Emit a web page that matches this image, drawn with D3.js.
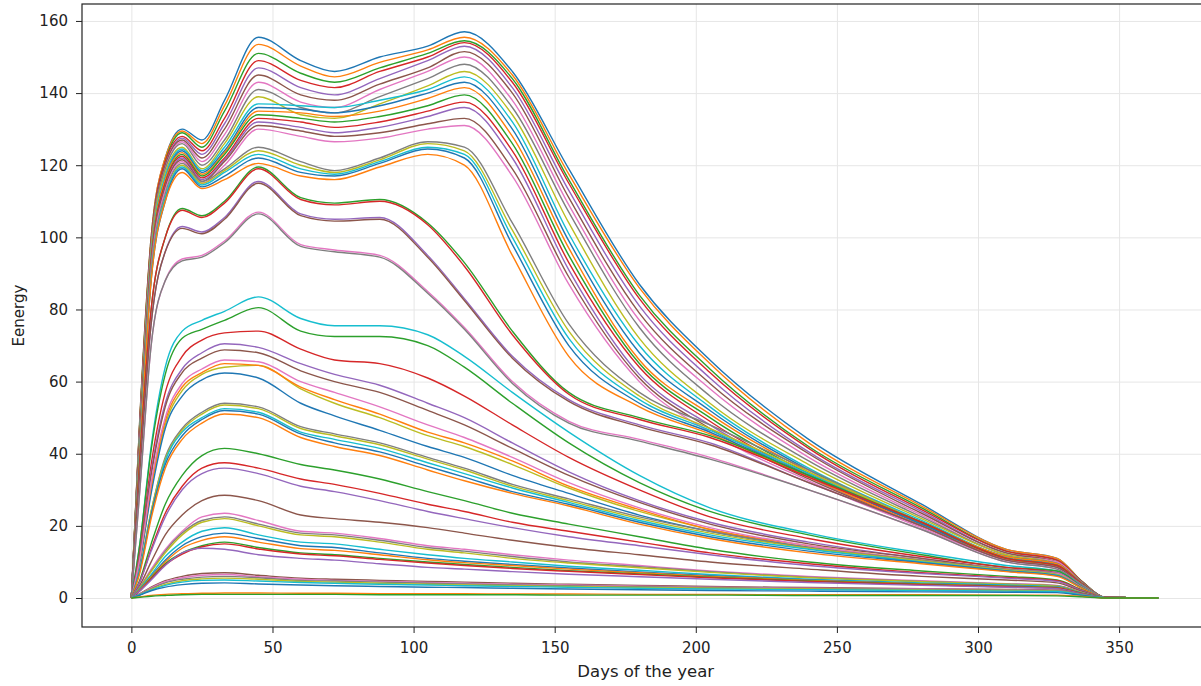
<!DOCTYPE html>
<html>
<head>
<meta charset="utf-8">
<script src="https://cdn.jsdelivr.net/npm/d3@7"></script>
<style>
  body { margin: 0; background: #fff; }
  text { font-family: "DejaVu Sans", sans-serif; }
</style>
</head>
<body>
<svg width="1201" height="686"></svg>
<script>
// sample days (x) shared by every series
const days = [0, 3, 7, 12, 18, 25, 33, 45, 60, 72, 88, 105, 118, 135, 155, 180, 205, 240, 280, 310, 328, 337, 345, 364];

// top bundle, two humps (day 45 and day 118)
const topSeries = [
  [0, 50, 100, 122, 130, 127, 138, 155.5, 149, 146, 150, 153, 157, 146, 119, 87, 66, 44, 26, 13.5, 11, 4.5, 0.2, 0],
  [0, 50, 100, 122, 129.5, 126, 136.5, 153.5, 147.5, 144.5, 148.5, 152, 155.5, 145, 117.5, 86, 65, 43, 25.5, 13.5, 11, 4.5, 0.2, 0],
  [0, 49, 99, 121, 129, 125, 135, 151, 145.5, 143, 147, 151, 154.5, 144, 116, 84, 63.5, 42, 25, 13, 10.5, 4.5, 0.2, 0],
  [0, 49, 99, 121, 128, 124, 133, 149, 143.5, 141.5, 146, 150, 154, 143, 115, 83, 62.5, 41.5, 24.5, 13, 10.5, 4.4, 0.2, 0],
  [0, 48, 98, 120, 127.5, 123, 131.5, 147, 141.5, 139.5, 144, 149, 153, 141.5, 113, 81, 61, 40.5, 24, 12.5, 10, 4.3, 0.2, 0],
  [0, 48, 98, 120, 127, 122, 130, 145, 139.5, 138, 142.5, 147, 151.5, 140, 111, 79, 59.5, 40, 23.5, 12.5, 10, 4.2, 0.2, 0],
  [0, 47, 97, 119, 126.5, 121, 128.5, 143, 137.5, 136, 141, 146, 150, 138, 109, 77, 58, 39, 23, 12, 10, 4.1, 0.2, 0],
  [0, 47, 97, 119, 126, 120, 127, 141, 136, 134.5, 139, 144, 148, 136, 107, 75, 56, 38, 22.5, 12, 9.5, 4, 0.2, 0],
  [0, 46, 96, 118, 125, 119, 126, 139, 134, 133, 137, 142, 146, 134, 104, 72, 54, 37, 22, 12, 9.5, 4, 0.2, 0]
];

const secondSeries = [
  [0, 46, 95, 117, 124.5, 118.5, 125, 137, 136.5, 136, 138, 141, 144.5, 132, 101, 70, 53, 36, 21.5, 11.5, 9.5, 4, 0.2, 0],
  [0, 45, 94, 116, 124, 118, 124, 136, 135.5, 134.5, 136.5, 140, 143, 130, 99, 68, 52, 35.5, 21, 11.5, 9.5, 4, 0.2, 0],
  [0, 45, 94, 116, 123.5, 117.5, 123.5, 135, 134.5, 133.5, 135, 138.5, 141.5, 128, 97, 66, 51, 35, 21, 11.5, 9.5, 4, 0.2, 0],
  [0, 44, 93, 115, 123, 117, 123, 134, 133, 132, 133.5, 136.5, 139.5, 126, 95, 65, 50, 34.5, 20.5, 11, 9, 3.9, 0.2, 0],
  [0, 44, 93, 115, 122.5, 116.5, 122, 133, 132, 130.5, 132, 135, 137.5, 124, 93, 64, 49, 34, 20.5, 11, 9, 3.9, 0.2, 0],
  [0, 43, 92, 114, 122, 116, 121.5, 132, 130.5, 129, 130.5, 133.5, 136, 122, 91, 62, 48, 33.5, 20, 11, 9, 3.8, 0.2, 0],
  [0, 43, 92, 114, 121.5, 115.5, 121, 131, 129.5, 128, 129, 131.5, 133, 119, 89, 61, 47, 33, 20, 11, 9, 3.8, 0.2, 0],
  [0, 42, 91, 113, 121, 115, 120, 130, 128, 126.5, 127.5, 130, 131, 117, 87, 60, 46, 32.5, 19.5, 10.5, 8.5, 3.7, 0.2, 0]
];

const thirdSeries = [
  [0, 42, 90, 112, 120.5, 115.5, 119, 125, 121, 118.5, 122, 126.5, 125, 104, 76, 57, 48, 35.5, 21, 11, 9, 3.8, 0.2, 0],
  [0, 41, 89, 111, 120, 115, 118.5, 124, 120, 118, 121.5, 126, 124, 102, 74, 56, 47, 35, 21, 11, 9, 3.8, 0.2, 0],
  [0, 41, 89, 111, 119.5, 114.5, 118, 123, 119, 117.5, 121, 125, 123, 100, 72, 55, 46.5, 34.5, 20.5, 11, 9, 3.8, 0.2, 0],
  [0, 40, 88, 110, 119, 114, 117, 122, 118, 117, 120.5, 124.5, 122, 98, 70, 54, 46, 34, 20.5, 11, 8.8, 3.7, 0.2, 0],
  [0, 40, 88, 110, 118, 113.5, 116, 120.5, 117, 116, 119.5, 123, 120, 95, 67, 53, 45.5, 33.5, 20, 10.8, 8.8, 3.7, 0.2, 0]
];

const hundredSeries = [
  [0, 38, 80, 100, 108, 106, 110, 119.5, 111, 109.5, 110.5, 104, 93, 74, 57, 50, 45, 34, 21, 11, 9, 3.8, 0.2, 0],
  [0, 38, 80, 100, 107.5, 105.5, 109.5, 119, 110.5, 109, 110, 103.5, 92, 73, 56.5, 49.5, 44.5, 33.5, 21, 11, 9, 3.8, 0.2, 0],
  [0, 35, 76, 96, 103, 101.5, 105.5, 115.5, 106.5, 105, 105.5, 95, 83, 67, 55, 48, 43, 32, 20, 10.5, 8.5, 3.6, 0.2, 0],
  [0, 35, 76, 96, 102.5, 101, 105, 115, 106, 104.5, 105, 94.5, 82.5, 66.5, 54.5, 47.5, 42.5, 32, 20, 10.5, 8.5, 3.6, 0.2, 0],
  [0, 30, 70, 88, 94, 95, 99, 107, 98, 96.5, 95, 85, 75, 60, 49, 44, 39, 30, 19, 10, 8, 3.5, 0.2, 0],
  [0, 30, 70, 88, 93.5, 94.5, 98.5, 106.5, 97.5, 96, 94.5, 84.5, 74.5, 59.5, 48.5, 43.5, 38.5, 30, 19, 10, 8, 3.5, 0.2, 0]
];

const seventySeries = [
  [0, 10, 30, 48, 57.5, 62, 64, 64.5, 58, 54, 50, 45, 42, 37, 30.5, 24, 19, 14, 10.5, 7.8, 6.6, 2.8, 0.2, 0],
  [0, 15, 42, 64, 74, 77, 79.5, 83.5, 77.5, 75.5, 75.5, 73, 67, 57, 46, 34, 25, 18, 12.5, 9, 7.5, 3.2, 0.2, 0],
  [0, 10, 29, 47, 56, 60.5, 62.4, 61, 54, 50.5, 46.5, 42, 39, 34, 29, 23, 18.5, 14, 10, 7.5, 6.5, 2.8, 0.2, 0],
  [0, 11, 31, 49, 58.5, 62.5, 65, 64.5, 58.5, 55, 51, 46, 43, 38, 31, 24.5, 19, 14.5, 10.5, 7.8, 6.6, 2.8, 0.2, 0],
  [0, 15, 41, 62, 72, 74.5, 77, 80.5, 74, 72.5, 72.5, 70, 64, 54, 43, 32, 24, 17.5, 12, 8.5, 7.5, 3.1, 0.2, 0],
  [0, 13, 37, 57, 67, 71.5, 73.5, 74, 69, 66, 65, 61, 56, 48, 39, 30, 22.5, 16.5, 11.5, 8.5, 7, 3, 0.2, 0],
  [0, 12, 35, 54, 63.5, 68, 70.5, 69.5, 65, 62, 59, 54, 50, 43, 35, 27, 21, 15.5, 11, 8, 7, 3, 0.2, 0],
  [0, 12, 34, 53, 62.5, 66.5, 68.8, 68, 63, 60, 57, 52, 48, 41.5, 34, 26.5, 20.5, 15, 11, 8, 6.8, 2.9, 0.2, 0],
  [0, 11, 32, 50, 59.5, 63.5, 66, 65.5, 60, 57, 53, 48, 44.5, 39, 32, 25, 19.5, 14.5, 10.5, 8, 6.8, 2.9, 0.2, 0]
];

const fiftySeries = [
  [0, 8, 24, 39, 47, 51.5, 54, 53, 47.5, 45.5, 43, 39, 36, 31.5, 27.5, 22.5, 18.5, 14, 10.5, 8, 6.5, 2.8, 0.2, 0],
  [0, 8, 24, 38.5, 46.5, 51, 53.5, 52.5, 47, 45, 42.5, 38.5, 35.5, 31, 27, 22, 18, 13.8, 10.3, 7.8, 6.5, 2.8, 0.2, 0],
  [0, 8, 23, 38, 46, 50, 52.5, 51.5, 46, 44, 41.5, 37.5, 34.5, 30.5, 26.5, 21.5, 17.5, 13.5, 10, 7.6, 6.3, 2.7, 0.2, 0],
  [0, 7.5, 23, 37, 45, 49.5, 52, 51, 45.5, 43, 40.5, 36.5, 33.5, 29.5, 26, 21, 17, 13, 9.8, 7.5, 6.2, 2.7, 0.2, 0],
  [0, 7, 22, 36, 44, 48.5, 51, 50, 44.5, 42, 39.5, 35.5, 32.5, 29, 25.5, 20.5, 16.5, 12.5, 9.5, 7.3, 6, 2.6, 0.2, 0]
];

const thirtySeries = [
  [0, 5, 15, 26, 34, 39.5, 41.5, 40, 37, 35.5, 33, 29.5, 27, 23.5, 20.5, 17, 13.5, 10, 7.5, 6, 5, 2.2, 0.2, 0],
  [0, 4.5, 13.5, 23.5, 31, 36, 37.5, 36, 33, 31.5, 29, 26, 24, 21, 18.5, 15.5, 12.5, 9.5, 7, 5.7, 4.8, 2.1, 0.2, 0],
  [0, 4.5, 13, 22.5, 30, 34.5, 36, 34.5, 31, 29.5, 27, 24, 22, 19.5, 17, 14.5, 12, 9, 6.8, 5.5, 4.6, 2, 0.2, 0],
  [0, 3.5, 10, 17.5, 23, 27, 28.5, 27, 23, 22, 21, 19.5, 18, 16, 14, 12, 10, 8, 6, 5, 4.2, 1.8, 0.2, 0]
];

const twentySeries = [
  [0, 3, 8, 13.5, 18.5, 22.5, 23.5, 21.5, 18.5, 18, 16.5, 14.5, 13.5, 12, 10.5, 9, 7.5, 6, 4.8, 4, 3.5, 1.5, 0.1, 0],
  [0, 3, 7.5, 13, 18, 21.5, 22.5, 20.5, 18, 17.5, 16, 14, 13, 11.5, 10, 8.7, 7.3, 5.8, 4.6, 3.9, 3.4, 1.5, 0.1, 0],
  [0, 2.8, 7.3, 12.5, 17.5, 21, 22, 20, 17.5, 17, 15.5, 13.5, 12.5, 11, 9.7, 8.4, 7.1, 5.6, 4.5, 3.8, 3.3, 1.4, 0.1, 0],
  [0, 2.5, 6.5, 11.5, 15.5, 18.5, 19.5, 17.5, 15.5, 15, 13.5, 12, 11, 10, 8.8, 7.7, 6.5, 5.2, 4.2, 3.6, 3.1, 1.3, 0.1, 0],
  [0, 2.4, 6, 10.5, 14.5, 17, 18, 16.5, 14.5, 14, 12.5, 11, 10.2, 9.3, 8.3, 7.2, 6.2, 5, 4, 3.4, 3, 1.3, 0.1, 0],
  [0, 2.2, 5.8, 10, 13.8, 16, 17, 15.5, 13.7, 13.2, 12, 10.6, 9.8, 9, 8, 7, 6, 4.9, 3.9, 3.3, 2.9, 1.2, 0.1, 0],
  [0, 2, 5.5, 9.5, 12.5, 14.5, 15.5, 14, 12.5, 12, 11, 10, 9.3, 8.5, 7.6, 6.7, 5.8, 4.7, 3.8, 3.2, 2.8, 1.2, 0.1, 0],
  [0, 2, 5.3, 9.2, 12.2, 14.2, 15, 13.6, 12.2, 11.7, 10.7, 9.7, 9, 8.2, 7.4, 6.5, 5.6, 4.6, 3.7, 3.1, 2.7, 1.2, 0.1, 0],
  [0, 2, 5, 9, 12.5, 13.8, 13.5, 12, 11, 10.5, 9.5, 8.5, 8, 7.3, 6.6, 5.9, 5.2, 4.3, 3.5, 3, 2.6, 1.1, 0.1, 0]
];

const lowSeries = [
  [0, 1.2, 3, 4.8, 6, 6.8, 7, 6.3, 5.5, 5.2, 4.9, 4.6, 4.4, 4.1, 3.8, 3.5, 3.2, 2.9, 2.6, 2.4, 2.2, 1, 0.1, 0],
  [0, 1.1, 2.8, 4.5, 5.6, 6.3, 6.5, 5.9, 5.2, 4.9, 4.6, 4.3, 4.1, 3.8, 3.6, 3.3, 3, 2.7, 2.5, 2.3, 2.1, 0.9, 0.1, 0],
  [0, 1, 2.6, 4.2, 5.2, 5.8, 6, 5.6, 4.9, 4.7, 4.4, 4.1, 3.9, 3.6, 3.4, 3.1, 2.9, 2.6, 2.4, 2.2, 2, 0.9, 0.1, 0],
  [0, 0.9, 2.4, 3.8, 4.8, 5.3, 5.5, 5.2, 4.6, 4.4, 4.1, 3.8, 3.6, 3.4, 3.2, 2.9, 2.7, 2.5, 2.2, 2.1, 1.9, 0.8, 0.1, 0],
  [0, 0.9, 2.2, 3.5, 4.4, 4.9, 5, 4.7, 4.3, 4.1, 3.8, 3.6, 3.4, 3.2, 3, 2.7, 2.5, 2.3, 2.1, 1.9, 1.8, 0.8, 0.1, 0],
  [0, 0.8, 2, 3, 3.7, 4.1, 4.2, 3.9, 3.6, 3.4, 3.2, 3.0, 2.9, 2.7, 2.5, 2.3, 2.1, 1.9, 1.7, 1.6, 1.5, 0.7, 0.1, 0],
  [0, 0.3, 0.7, 1, 1.2, 1.3, 1.4, 1.4, 1.3, 1.3, 1.2, 1.2, 1.2, 1.1, 1.1, 1, 1, 0.9, 0.9, 0.8, 0.8, 0.4, 0, 0],
  [0, 0.2, 0.5, 0.7, 0.9, 1, 1, 1, 1, 1, 0.9, 0.9, 0.9, 0.9, 0.8, 0.8, 0.8, 0.7, 0.7, 0.7, 0.6, 0.3, 0, 0]
];

const xTicks = [0, 50, 100, 150, 200, 250, 300, 350];
const yTicks = [0, 20, 40, 60, 80, 100, 120, 140, 160];

const allSeries = [].concat(topSeries, secondSeries, thirdSeries, hundredSeries,
  seventySeries, fiftySeries, thirtySeries, twentySeries, lowSeries);

const svg = d3.select("svg");
const plotLeft = 82, plotTop = 4, plotBottom = 627, plotRight = 1209.4;

const xScale = d3.scaleLinear().domain([-17.5, 382]).range([plotLeft, plotRight]);
const yScale = d3.scaleLinear().domain([-8.04, 164.7]).range([plotBottom, plotTop]);
const color = d3.scaleOrdinal(d3.schemeCategory10);

// grid
svg.append("g")
  .attr("transform", `translate(0,${plotBottom})`)
  .call(d3.axisBottom(xScale).tickValues(xTicks).tickSize(-(plotBottom - plotTop)).tickFormat(""))
  .call(g => g.select(".domain").remove())
  .call(g => g.selectAll("line").attr("stroke", "#e6e6e6").attr("stroke-width", 1));
svg.append("g")
  .attr("transform", `translate(${plotLeft},0)`)
  .call(d3.axisLeft(yScale).tickValues(yTicks).tickSize(-(plotRight - plotLeft)).tickFormat(""))
  .call(g => g.select(".domain").remove())
  .call(g => g.selectAll("line").attr("stroke", "#e6e6e6").attr("stroke-width", 1));

svg.append("clipPath").attr("id", "plot")
  .append("rect").attr("x", plotLeft).attr("y", plotTop)
  .attr("width", plotRight - plotLeft).attr("height", plotBottom - plotTop);

const line = d3.line()
  .x((d, i) => xScale(days[i]))
  .y(d => yScale(d))
  .curve(d3.curveMonotoneX);

svg.append("g").attr("clip-path", "url(#plot)")
  .selectAll("path")
  .data(allSeries)
  .join("path")
  .attr("d", line)
  .attr("fill", "none")
  .attr("stroke", (d, i) => color(i % 10))
  .attr("stroke-width", 1.4);

// axes
const xAxis = svg.append("g")
  .attr("transform", `translate(0,${plotBottom})`)
  .call(d3.axisBottom(xScale).tickValues(xTicks).tickSize(6).tickPadding(9));
const yAxis = svg.append("g")
  .attr("transform", `translate(${plotLeft},0)`)
  .call(d3.axisLeft(yScale).tickValues(yTicks).tickSize(6).tickPadding(8));
[xAxis, yAxis].forEach(a => {
  a.select(".domain").remove();
  a.selectAll("line").attr("stroke", "#222");
  a.selectAll("text").attr("font-size", 15).attr("fill", "#222")
    .attr("font-family", "DejaVu Sans");
});

// spines
svg.append("rect")
  .attr("x", plotLeft).attr("y", plotTop)
  .attr("width", plotRight - plotLeft).attr("height", plotBottom - plotTop)
  .attr("fill", "none").attr("stroke", "#222").attr("stroke-width", 1.2);

svg.append("text")
  .attr("x", (plotLeft + plotRight) / 2).attr("y", 677)
  .attr("text-anchor", "middle").attr("font-size", 16.5).attr("fill", "#222")
  .text("Days of the year");

svg.append("text")
  .attr("transform", `translate(24,${(plotTop + plotBottom) / 2}) rotate(-90)`)
  .attr("text-anchor", "middle").attr("font-size", 15).attr("fill", "#222")
  .text("Eenergy");
</script>
</body>
</html>
